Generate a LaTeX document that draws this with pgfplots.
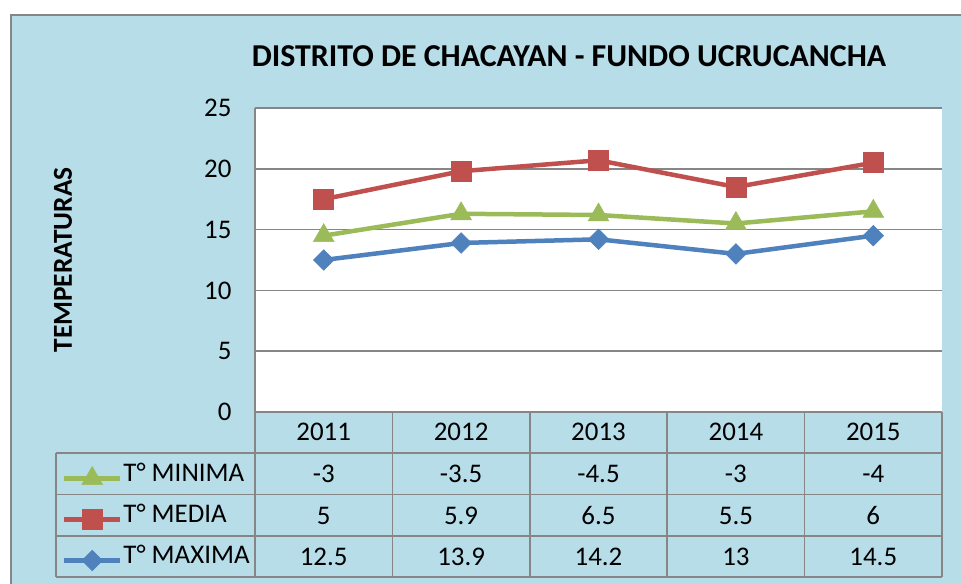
\documentclass[border=0pt]{standalone}
\usepackage{pgfplots}
\pgfplotsset{compat=1.18}
\usepackage{fontspec}
\setmainfont{Carlito}
\definecolor{bg}{HTML}{B7DDE8}
\definecolor{grd}{HTML}{868686}
\definecolor{cblue}{HTML}{4F81BD}
\definecolor{cred}{HTML}{C0504D}
\definecolor{cgreen}{HTML}{9BBB59}
\begin{document}
\begin{tikzpicture}[x=1bp,y=1bp]
\useasboundingbox (0,0) rectangle (961,584);
\fill[bg] (11,0) rectangle (961,569);
\draw[grd, line width=1.5bp] (11,0) -- (11,569) -- (961,569);
\node[font=\bfseries\fontsize{32}{38}\selectfont] at (569,528) {DISTRITO DE CHACAYAN - FUNDO UCRUCANCHA};
\node[rotate=90, font=\bfseries\fontsize{27.5}{33}\selectfont] at (63,324) {TEMPERATURAS};
\begin{axis}[at={(255bp,172bp)}, anchor=south west, scale only axis,
  width=687bp, height=304bp,
  xmin=-0.5, xmax=4.5, ymin=0, ymax=25, ytick={0,5,...,25}, xtick=\empty,
  axis line style={draw=none}, major tick length=0pt,
  ymajorgrids, grid style={grd, line width=1.5bp},
  axis background/.style={fill=white},
  stack plots=y,
  yticklabel style={font=\fontsize{27}{32}\selectfont, xshift=-20bp},
  /pgf/number format/assume math mode=true,
  reverse legend,
  legend image code/.code={\draw[#1, mark repeat=2, mark phase=2] plot coordinates {(0bp,-5bp) (28bp,-5bp) (56bp,-5bp)};},
  legend style={at={(-0.281,-0.1349)}, anchor=north west, draw=none, fill=none,
    inner sep=0pt, outer sep=0pt, row sep=0pt, column sep=0pt,
    font=\fontsize{27}{32}\selectfont,
    nodes={inner ysep=0pt, inner xsep=1bp, text height=28bp, text depth=13bp}},
  legend cell align=left,
  clip=false,
]
\addplot[cblue, line width=4.5bp, mark=square*, mark options={rotate=45, mark size=7.3bp, line width=0.5bp, fill=cblue}]
  coordinates {(0,12.5) (1,13.9) (2,14.2) (3,13) (4,14.5)};
\addlegendentry{T° MAXIMA}
\addplot[cred, line width=4.5bp, mark=square*, mark options={mark size=10bp, line width=0.5bp, fill=cred}]
  coordinates {(0,5) (1,5.9) (2,6.5) (3,5.5) (4,6)};
\addlegendentry{T° MEDIA}
\addplot[cgreen, line width=4.5bp, mark=triangle*, mark options={mark size=12bp, line width=0.5bp, fill=cgreen}]
  coordinates {(0,-3) (1,-3.5) (2,-4.5) (3,-3) (4,-4)};
\addlegendentry{T° MINIMA}
\draw[grd, line width=1.5bp] (rel axis cs:0,0) -- (rel axis cs:0,1);
\end{axis}
% data table grid
\begin{scope}[grd, line width=1.5bp]
\foreach \y in {131,89.5,48,7} \draw (56,\y) -- (942,\y);
\draw (56,7) -- (56,131);
\foreach \x in {255,392.4,529.8,667.2,804.6,942} \draw (\x,7) -- (\x,172);
\end{scope}
\begin{scope}[font=\fontsize{27}{32}\selectfont]
\foreach \x/\a/\b/\c/\d in {323.7/2011/-3/5/12.5, 461.1/2012/-3.5/5.9/13.9, 598.5/2013/-4.5/6.5/14.2, 735.9/2014/-3/5.5/13, 873.3/2015/-4/6/14.5} {
  \node at (\x,152) {\a};
  \node at (\x,110) {\b};
  \node at (\x,68.5) {\c};
  \node at (\x,27.5) {\d};
}
\end{scope}
\end{tikzpicture}
\end{document}
